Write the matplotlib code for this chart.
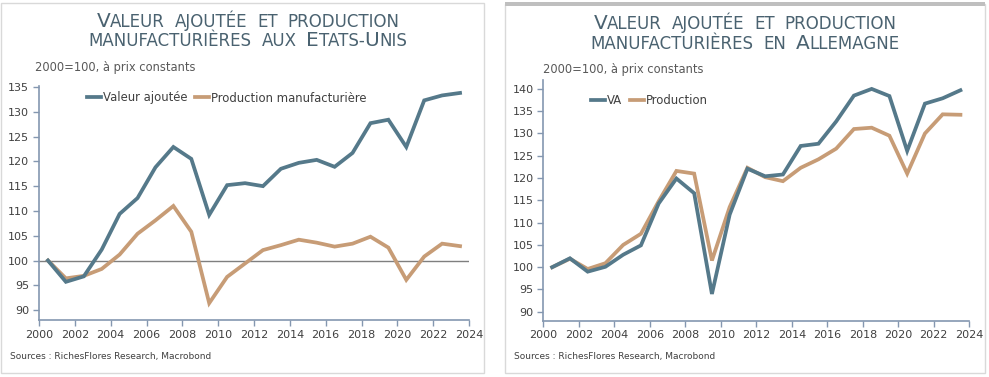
import matplotlib
matplotlib.use('Agg')
import matplotlib.pyplot as plt
from matplotlib.patches import Rectangle
from matplotlib.offsetbox import TextArea, HPacker, AnnotationBbox

# donnees (2000=100)
years = [2000.5 + i for i in range(24)]

us_va = [100, 95.7, 96.8, 102.2, 109.4, 112.6, 118.8, 122.9, 120.5, 109.2,
         115.2, 115.6, 115.0, 118.5, 119.7, 120.3, 118.9, 121.7, 127.7, 128.4,
         122.9, 132.3, 133.3, 133.8]
us_prod = [100, 96.4, 96.9, 98.3, 101.2, 105.4, 108.1, 111.0, 105.8, 91.4,
           96.7, 99.4, 102.1, 103.1, 104.2, 103.6, 102.8, 103.4, 104.8, 102.6,
           96.1, 100.8, 103.4, 102.9]

de_va = [100, 102.0, 99.0, 100.1, 102.8, 104.9, 114.3, 119.9, 116.6, 94.0,
         111.8, 122.1, 120.4, 120.8, 127.2, 127.7, 132.7, 138.5, 140.0, 138.4,
         126.1, 136.7, 137.9, 139.7]
de_prod = [100, 101.9, 99.6, 100.9, 105.0, 107.5, 114.8, 121.6, 121.0, 101.5,
           113.5, 122.3, 120.2, 119.3, 122.3, 124.2, 126.6, 131.0, 131.3, 129.5,
           121.0, 130.0, 134.3, 134.2]

xticks = list(range(2000, 2025, 2))

C_VA = '#55798A'
C_PROD = '#C79C76'
C_AXIS = '#8497B0'
C_TXT = '#404040'
C_TITLE = '#4A6270'

W, H = 989, 377
fig = plt.figure(figsize=(W / 100, H / 100), dpi=100)


def fx(px):
    return px / W


def fy(py):
    return 1 - py / H


def title_line(x, y, words):
    # petites capitales simulees : lettres "big" plus grandes
    wboxes = []
    for w in words:
        parts = [TextArea(s, textprops=dict(fontsize=14.5 if big else 12, color=C_TITLE,
                                            family='DejaVu Sans'))
                 for s, big in w]
        wboxes.append(HPacker(children=parts, align='baseline', pad=0, sep=0))
    pack = HPacker(children=wboxes, align='baseline', pad=0, sep=7)
    ab = AnnotationBbox(pack, (fx(x), fy(y)), xycoords='figure fraction',
                        frameon=False, box_alignment=(0.5, 0.5), pad=0)
    fig.add_artist(ab)


def panel(ax, va, prod, ylim, yticks, labels, leg_xy, hline):
    ax.plot(years, va, color=C_VA, lw=2.7, label=labels[0], solid_joinstyle='miter', zorder=3)
    ax.plot(years, prod, color=C_PROD, lw=2.7, label=labels[1], solid_joinstyle='miter', zorder=2)
    if hline:
        ax.axhline(100, color='#7F7F7F', lw=1, zorder=1)
    ax.set_xlim(2000, 2024)
    ax.set_ylim(*ylim)
    ax.set_xticks(xticks)
    ax.set_yticks(yticks)
    for s in ['top', 'right']:
        ax.spines[s].set_visible(False)
    for s in ['left', 'bottom']:
        ax.spines[s].set_color(C_AXIS)
        ax.spines[s].set_linewidth(1.2)
    ax.tick_params(direction='out', length=4, width=1, color=C_AXIS,
                   labelsize=8, labelcolor=C_TXT, pad=3)
    ax.legend(loc='center left', bbox_to_anchor=(fx(leg_xy[0]), fy(leg_xy[1])),
              bbox_transform=fig.transFigure, ncol=2, frameon=False, fontsize=8.4,
              handlelength=1.2, handletextpad=0.2, columnspacing=0.6,
              borderpad=0, borderaxespad=0, labelcolor=C_TXT)


# cadres
fig.add_artist(Rectangle((fx(1), fy(373)), fx(483), (372 - 2) / H, transform=fig.transFigure,
                         fill=False, ec='#D9D9D9', lw=1))
fig.add_artist(Rectangle((fx(505), fy(373)), fx(480), (373 - 4) / H, transform=fig.transFigure,
                         fill=False, ec='#D9D9D9', lw=1))
fig.add_artist(Rectangle((fx(505), fy(6)), fx(480), 4 / H, transform=fig.transFigure,
                         fc='#BFBFBF', ec='none'))

# Etats-Unis
ax1 = fig.add_axes([fx(39), fy(320), fx(469 - 39), (320 - 86) / H])
panel(ax1, us_va, us_prod, (88, 135.2), range(90, 136, 5),
      ['Valeur ajoutée', 'Production manufacturière'], (87, 98), True)

# Allemagne
ax2 = fig.add_axes([fx(543.3), fy(320.7), fx(969.3 - 543.3), (320.7 - 80) / H])
panel(ax2, de_va, de_prod, (88, 142), range(90, 141, 5),
      ['VA', 'Production'], (591, 101), False)

title_line(248, 21, [[('V', True), ('ALEUR', False)], [('AJOUTÉE', False)],
                     [('ET', False)], [('PRODUCTION', False)]])
title_line(248, 41, [[('MANUFACTURIÈRES', False)], [('AUX', False)],
                     [('E', True), ('TATS-', False), ('U', True), ('NIS', False)]])
title_line(745, 23, [[('V', True), ('ALEUR', False)], [('AJOUTÉE', False)],
                     [('ET', False)], [('PRODUCTION', False)]])
title_line(745, 43.5, [[('MANUFACTURIÈRES', False)], [('EN', False)],
                       [('A', True), ('LLEMAGNE', False)]])

fig.text(fx(35), fy(67), '2000=100, à prix constants', fontsize=8.3, color='#595959', va='center')
fig.text(fx(543), fy(70), '2000=100, à prix constants', fontsize=8.3, color='#595959', va='center')

fig.text(fx(10), fy(357), 'Sources : RichesFlores Research, Macrobond', fontsize=6.5,
         color=C_TXT, va='center')
fig.text(fx(514), fy(357), 'Sources : RichesFlores Research, Macrobond', fontsize=6.5,
         color=C_TXT, va='center')

fig.savefig('out.png', dpi=100)
